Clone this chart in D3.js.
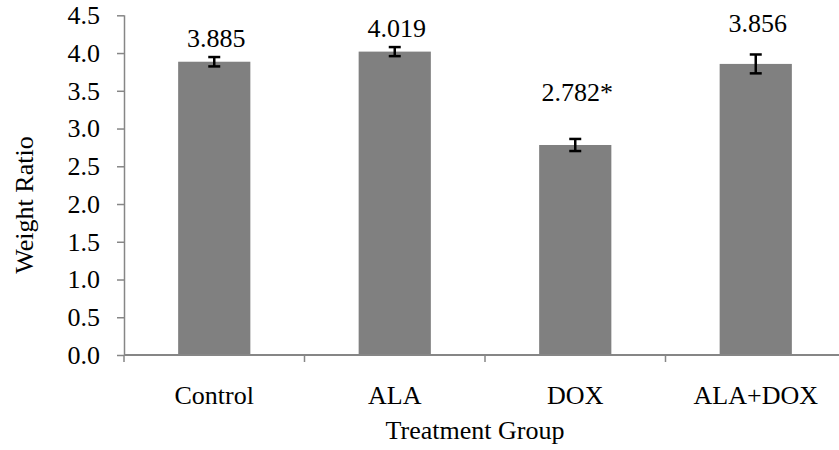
<!DOCTYPE html>
<html>
<head>
<meta charset="utf-8">
<script src="https://cdn.jsdelivr.net/npm/d3@7"></script>
<style>
  html, body { margin: 0; padding: 0; background: #fff; }
  svg { display: block; }
  svg text { font-family: "Liberation Serif", serif !important; fill: #000; }
</style>
</head>
<body>
<svg id="chart" width="839" height="450"></svg>
<script>
// ---- data ----
const categories = ["Control", "ALA", "DOX", "ALA+DOX"];
const values = [3.885, 4.019, 2.782, 3.856];
const errors = [0.062, 0.06, 0.08, 0.125];
const valueLabels = ["3.885", "4.019", "2.782*", "3.856"];
const labelAt = [4.085, 4.218, 3.37, 4.276]; // label baseline, in data units
const yTicks = [0, 0.5, 1.0, 1.5, 2.0, 2.5, 3.0, 3.5, 4.0, 4.5];
const xTitle = "Treatment Group";
const yTitle = "Weight Ratio";

(function () {
// ---- layout ----
const svg = d3.select("#chart");
const pLeft = 124, pRight = 846, pTop = 15.3, pBottom = 355;
const FS = 26;
const FF = "'Liberation Serif', serif";
const axisColor = "#868686";

const x = d3.scaleBand().domain(categories).range([pLeft, pRight])
  .paddingInner(0.6).paddingOuter(0.3);
const y = d3.scaleLinear().domain([0, 4.5]).range([pBottom, pTop]);

// bars
svg.append("g").selectAll("rect").data(categories).join("rect")
  .attr("x", d => x(d))
  .attr("y", (d, i) => y(values[i]))
  .attr("width", x.bandwidth())
  .attr("height", (d, i) => y(0) - y(values[i]))
  .attr("fill", "#808080");

// y axis
const yAxis = svg.append("g").attr("transform", `translate(${pLeft},0)`)
  .call(d3.axisLeft(y).tickValues(yTicks).tickFormat(d3.format(".1f"))
    .tickSize(7).tickPadding(17).tickSizeOuter(0));
yAxis.attr("font-family", null).attr("font-size", null);
yAxis.select(".domain").attr("stroke", axisColor).attr("stroke-width", 1.5)
  .attr("d", `M0.5,${pBottom}V${pTop}`);
yAxis.selectAll(".tick line").attr("stroke", axisColor).attr("stroke-width", 1.5);
yAxis.selectAll(".tick text").style("font-size", FS + "px").style("font-family", FF)
  .attr("fill", "#000");

// x axis (ticks at category boundaries)
const step = x.step();
const boundaries = d3.range(categories.length + 1).map(i => pLeft + i * step);
const xg = svg.append("g");
xg.append("line").attr("x1", pLeft).attr("x2", pRight).attr("y1", pBottom).attr("y2", pBottom)
  .attr("stroke", axisColor).attr("stroke-width", 2);
xg.selectAll("line.tk").data(boundaries).join("line").attr("class", "tk")
  .attr("x1", d => d).attr("x2", d => d).attr("y1", pBottom).attr("y2", pBottom + 7)
  .attr("stroke", axisColor).attr("stroke-width", 1.5);
xg.selectAll("text").data(categories).join("text")
  .attr("x", d => x(d) + x.bandwidth() / 2)
  .attr("y", 404)
  .attr("text-anchor", "middle")
  .style("font-size", FS + "px").style("font-family", FF)
  .text(d => d);

// error bars
const eb = svg.append("g").attr("stroke", "#000").attr("stroke-width", 2.5);
categories.forEach((c, i) => {
  const cx = x(c) + x.bandwidth() / 2;
  const y1 = y(values[i] + errors[i]), y2 = y(values[i] - errors[i]);
  eb.append("line").attr("x1", cx).attr("x2", cx).attr("y1", y1).attr("y2", y2);
  eb.append("line").attr("x1", cx - 6).attr("x2", cx + 6).attr("y1", y1).attr("y2", y1);
  eb.append("line").attr("x1", cx - 6).attr("x2", cx + 6).attr("y1", y2).attr("y2", y2);
});

// value labels
svg.append("g").selectAll("text").data(categories).join("text")
  .attr("x", d => x(d) + x.bandwidth() / 2 + 2)
  .attr("y", (d, i) => y(labelAt[i]))
  .attr("text-anchor", "middle")
  .style("font-size", FS + "px").style("font-family", FF)
  .text((d, i) => valueLabels[i]);

// axis titles
svg.append("text").attr("x", (pLeft + pRight) / 2 - 10).attr("y", 439)
  .attr("text-anchor", "middle")
  .style("font-size", FS + "px").style("font-family", FF).text(xTitle);
svg.append("text").attr("transform", `translate(33,205) rotate(-90)`)
  .attr("text-anchor", "middle")
  .style("font-size", FS + "px").style("font-family", FF).text(yTitle);
})();
</script>
</body>
</html>
